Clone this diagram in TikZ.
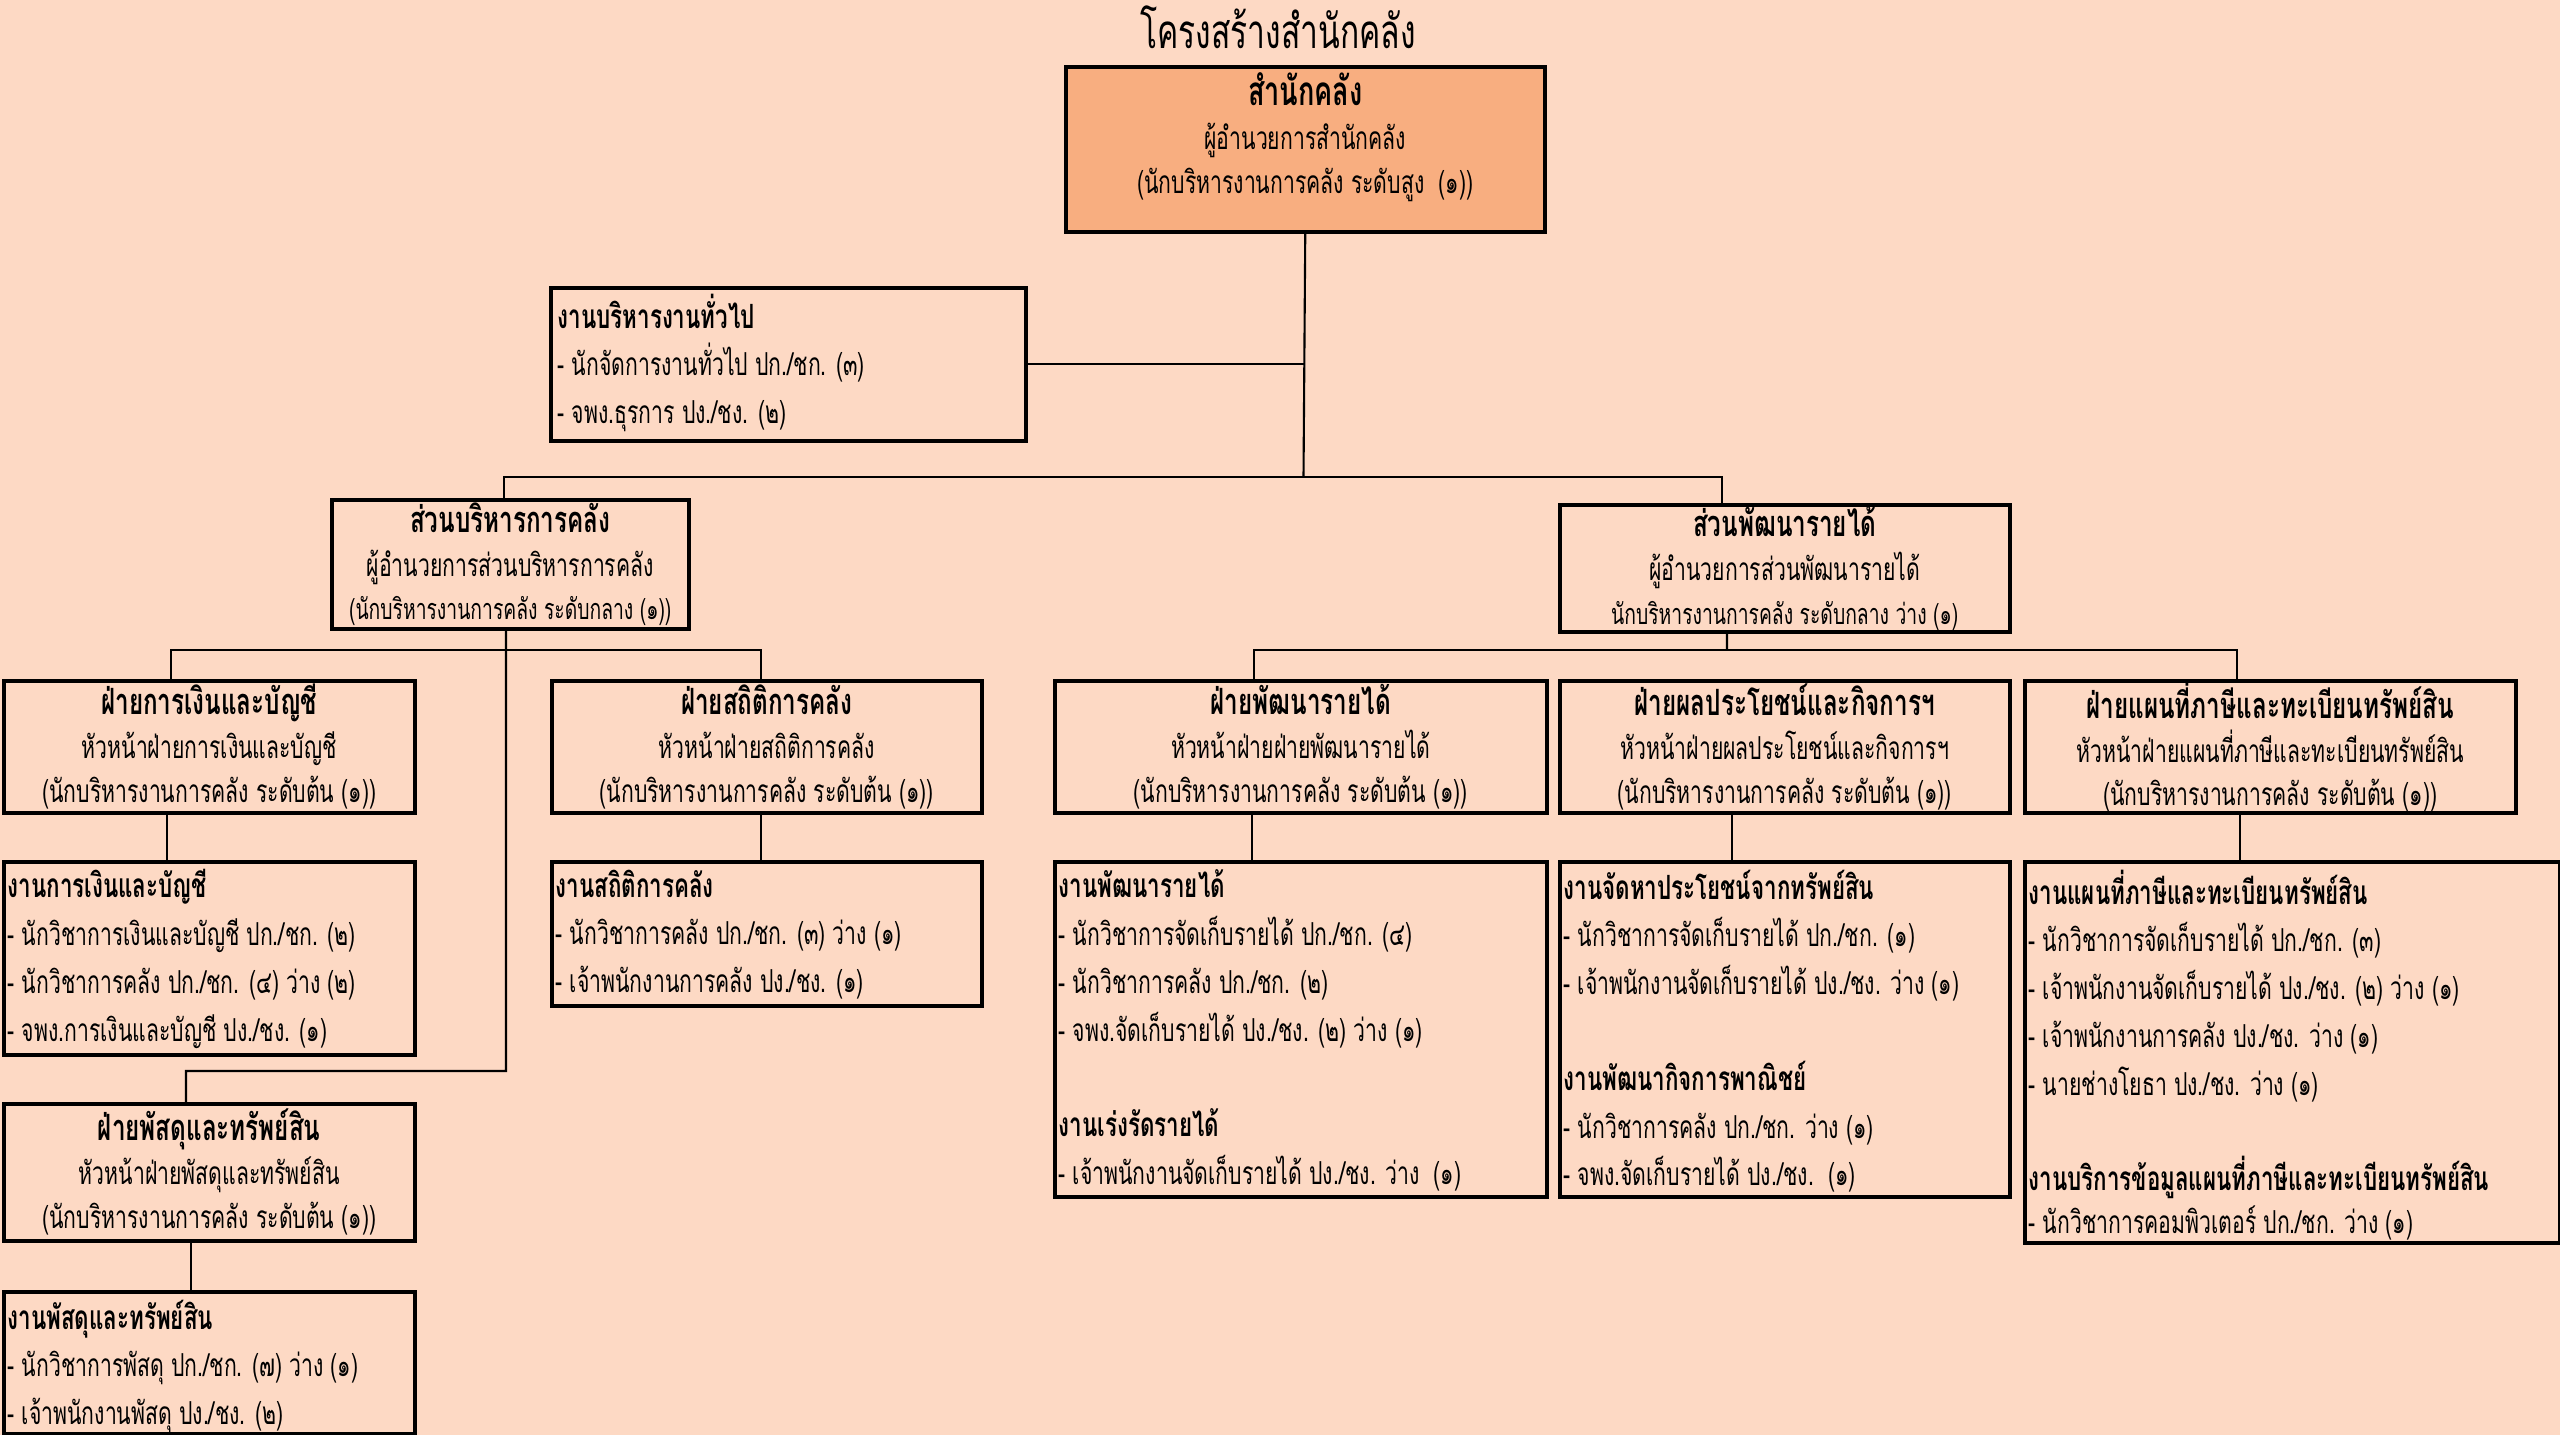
\documentclass[tikz,border=0pt]{standalone}
\usepackage{fontspec}
\newfontfamily\thai[Script=Thai,FakeStretch=0.67]{Loma}
\usetikzlibrary{positioning,calc}
\definecolor{pagebg}{HTML}{FDD9C4}
\definecolor{headfill}{HTML}{F8AE80}
\newcommand\hd[1]{{\bfseries\fontsize{10.3}{12.5}\selectfont #1}}
\newcommand\wk[1]{{\bfseries\fontsize{9.5}{13.6}\selectfont #1}}
\newcommand\sm[1]{{\fontsize{8.2}{12.5}\selectfont #1}}
\tikzset{
    box/.style = {
        draw,
        shape=rectangle,
        anchor=north west,
        inner sep=0pt,
        line width=1pt,
        fill=pagebg
    },
    unit/.style = {
        box,
        align=center,
        font=\thai\fontsize{9}{12.5}\selectfont
    },
    list/.style = {
        anchor=north west,
        align=left,
        inner sep=0pt,
        execute at begin node=\rule{0pt}{12pt},
        font=\thai\fontsize{9}{13.6}\selectfont
    },
    link/.style = {
        draw,
        line width=0.6pt
    },
}

\begin{document}
\begin{tikzpicture}
            \useasboundingbox[fill=pagebg] (0,0) rectangle (25.6,-14.35);
            \node[font=\thai\fontsize{13.5}{16}\selectfont] (title) at (12.78,-0.27) {โครงสร้างสำนักคลัง};

            % top level
            \node[box, fill=headfill, minimum width=4.79cm, minimum height=1.65cm] (office) at (10.64,-0.65) {};
            \node[align=center, font=\thai\fontsize{9}{12.5}\selectfont] (office-t) at ([yshift=-0.72cm]office.north) {{\bfseries\fontsize{11.5}{13}\selectfont สำนักคลัง}\\ผู้อำนวยการสำนักคลัง\\(นักบริหารงานการคลัง ระดับสูง\ \ (๑))};

            \node[box, minimum width=4.75cm, minimum height=1.53cm] (general) at (5.49,-2.86) {};
            \node[list] (general-t) at ([shift={(0.08,-0.07)}]general.north west) {\wk{งานบริหารงานทั่วไป}\\- นักจัดการงานทั่วไป ปก./ชก. (๓)\\- จพง.ธุรการ ปง./ชง. (๒)};

            % divisions
            \node[unit, minimum width=3.57cm, minimum height=1.29cm] (admin) at (3.30,-4.98) {\hd{ส่วนบริหารการคลัง}\\ผู้อำนวยการส่วนบริหารการคลัง\\\sm{(นักบริหารงานการคลัง ระดับกลาง (๑))}};
            \node[unit, minimum width=4.50cm, minimum height=1.27cm] (revenue) at (15.58,-5.03) {\hd{ส่วนพัฒนารายได้}\\ผู้อำนวยการส่วนพัฒนารายได้\\\sm{นักบริหารงานการคลัง ระดับกลาง ว่าง (๑)}};

            % sections
            \node[unit, minimum width=4.11cm, minimum height=1.32cm] (finance) at (0.02,-6.79) {\hd{ฝ่ายการเงินและบัญชี}\\หัวหน้าฝ่ายการเงินและบัญชี\\(นักบริหารงานการคลัง ระดับต้น (๑))};
            \node[unit, minimum width=4.30cm, minimum height=1.32cm] (stats) at (5.50,-6.79) {\hd{ฝ่ายสถิติการคลัง}\\หัวหน้าฝ่ายสถิติการคลัง\\(นักบริหารงานการคลัง ระดับต้น (๑))};
            \node[unit, minimum width=4.11cm, minimum height=1.37cm] (supplies) at (0.02,-11.02) {\hd{ฝ่ายพัสดุและทรัพย์สิน}\\หัวหน้าฝ่ายพัสดุและทรัพย์สิน\\(นักบริหารงานการคลัง ระดับต้น (๑))};
            \node[unit, minimum width=4.92cm, minimum height=1.32cm] (devunit) at (10.53,-6.79) {\hd{ฝ่ายพัฒนารายได้}\\หัวหน้าฝ่ายฝ่ายพัฒนารายได้\\(นักบริหารงานการคลัง ระดับต้น (๑))};
            \node[unit, minimum width=4.50cm, minimum height=1.32cm] (benefit) at (15.58,-6.79) {\hd{ฝ่ายผลประโยชน์และกิจการฯ}\\หัวหน้าฝ่ายผลประโยชน์และกิจการฯ\\(นักบริหารงานการคลัง ระดับต้น (๑))};
            \node[unit, minimum width=4.91cm, minimum height=1.32cm] (mapunit) at (20.23,-6.79) {\hd{ฝ่ายแผนที่ภาษีและทะเบียนทรัพย์สิน}\\หัวหน้าฝ่ายแผนที่ภาษีและทะเบียนทรัพย์สิน\\(นักบริหารงานการคลัง ระดับต้น (๑))};

            % work groups
            \node[box, minimum width=4.11cm, minimum height=1.93cm] (financework) at (0.02,-8.60) {};
            \node[box, minimum width=4.30cm, minimum height=1.44cm] (statswork) at (5.50,-8.60) {};
            \node[box, minimum width=4.11cm, minimum height=1.42cm] (supplieswork) at (0.02,-12.90) {};
            \node[box, minimum width=4.92cm, minimum height=3.35cm] (devwork) at (10.53,-8.60) {};
            \node[box, minimum width=4.50cm, minimum height=3.35cm] (benefitwork) at (15.58,-8.60) {};
            \node[box, minimum width=5.35cm, minimum height=3.81cm] (mapwork) at (20.23,-8.60) {};

            \node[list] (financework-t) at ([shift={(0.05,-0.09)}]financework.north west) {\wk{งานการเงินและบัญชี}\\- นักวิชาการเงินและบัญชี ปก./ชก. (๒)\\- นักวิชาการคลัง ปก./ชก. (๔) ว่าง (๒)\\- จพง.การเงินและบัญชี ปง./ชง. (๑)};
            \node[list] (statswork-t) at ([shift={(0.05,-0.09)}]statswork.north west) {\wk{งานสถิติการคลัง}\\- นักวิชาการคลัง ปก./ชก. (๓) ว่าง (๑)\\- เจ้าพนักงานการคลัง ปง./ชง. (๑)};
            \node[list] (supplieswork-t) at ([shift={(0.05,-0.09)}]supplieswork.north west) {\wk{งานพัสดุและทรัพย์สิน}\\- นักวิชาการพัสดุ ปก./ชก. (๗) ว่าง (๑)\\- เจ้าพนักงานพัสดุ ปง./ชง. (๒)};
            \node[list] (devwork-t) at ([shift={(0.05,-0.09)}]devwork.north west) {\wk{งานพัฒนารายได้}\\- นักวิชาการจัดเก็บรายได้ ปก./ชก. (๔)\\- นักวิชาการคลัง ปก./ชก. (๒)\\- จพง.จัดเก็บรายได้ ปง./ชง. (๒) ว่าง (๑)\\[13.6pt]\wk{งานเร่งรัดรายได้}\\- เจ้าพนักงานจัดเก็บรายได้ ปง./ชง. ว่าง\ \ (๑)};
            \node[list] (benefitwork-t) at ([shift={(0.05,-0.09)}]benefitwork.north west) {\wk{งานจัดหาประโยชน์จากทรัพย์สิน}\\- นักวิชาการจัดเก็บรายได้ ปก./ชก. (๑)\\- เจ้าพนักงานจัดเก็บรายได้ ปง./ชง. ว่าง (๑)\\[13.6pt]\wk{งานพัฒนากิจการพาณิชย์}\\- นักวิชาการคลัง ปก./ชก. ว่าง (๑)\\- จพง.จัดเก็บรายได้ ปง./ชง.\ \ (๑)};
            \node[list] (mapwork-t) at ([shift={(0.05,-0.09)}]mapwork.north west) {\wk{งานแผนที่ภาษีและทะเบียนทรัพย์สิน}\\- นักวิชาการจัดเก็บรายได้ ปก./ชก. (๓)\\- เจ้าพนักงานจัดเก็บรายได้ ปง./ชง. (๒) ว่าง (๑)\\- เจ้าพนักงานการคลัง ปง./ชง. ว่าง (๑)\\- นายช่างโยธา ปง./ชง. ว่าง (๑)\\[13.6pt]\wk{งานบริการข้อมูลแผนที่ภาษีและทะเบียนทรัพย์สิน}\\[-1.5pt]- นักวิชาการคอมพิวเตอร์ ปก./ชก. ว่าง (๑)};

            % connectors
            \coordinate (split) at (13.035,-4.77);
            \coordinate (split-admin) at (5.06,-6.50);
            \coordinate (turn-admin) at (5.06,-10.71);
            \coordinate (split-rev) at (17.27,-6.50);

            \path[link] (office.south) -- (split);
            \path[link] (general.east) -- (general.east -| split);
            \path[link] ([xshift=1.74cm]admin.north west) |- (split) -| ([xshift=1.64cm]revenue.north west);

            \path[link] ([xshift=1.76cm]admin.south west) -- (turn-admin) -| ([xshift=1.84cm]supplies.north west);
            \path[link] ([xshift=1.69cm]finance.north west) |- (split-admin) -| ([xshift=2.11cm]stats.north west);
            \path[link] ([xshift=1.69cm]revenue.south west) -- (split-rev);
            \path[link] ([xshift=2.01cm]devunit.north west) |- (split-rev) -| ([xshift=2.14cm]mapunit.north west);

            \path[link] ([xshift=1.65cm]finance.south west) -- ([xshift=1.65cm]financework.north west);
            \path[link] ([xshift=2.11cm]stats.south west) -- ([xshift=2.11cm]statswork.north west);
            \path[link] ([xshift=1.89cm]supplies.south west) -- ([xshift=1.89cm]supplieswork.north west);
            \path[link] ([xshift=1.99cm]devunit.south west) -- ([xshift=1.99cm]devwork.north west);
            \path[link] ([xshift=1.74cm]benefit.south west) -- ([xshift=1.74cm]benefitwork.north west);
            \path[link] ([xshift=2.17cm]mapunit.south west) -- ([xshift=2.17cm]mapwork.north west);
        \end{tikzpicture}
\end{document}
